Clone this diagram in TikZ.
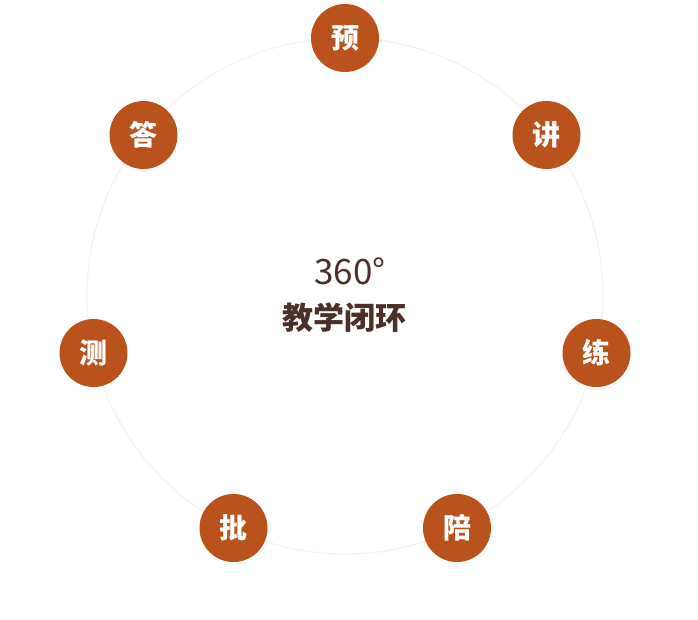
\documentclass[tikz,border=0pt]{standalone}
\usepackage{fontspec}
\setmainfont{Noto Sans CJK SC}
\usepackage{tikz}
\definecolor{rust}{HTML}{B9521D}
\definecolor{ringgray}{HTML}{F6F2EE}
\definecolor{darkbrown}{HTML}{4A3029}
\tikzset{%
    stage/.style={circle,fill=rust,text=white,minimum size=68pt,inner sep=0pt,font=\fontsize{28}{28}\selectfont\bfseries}
}

\begin{document}
\begin{tikzpicture}[x=1pt,y=-1pt]
        \useasboundingbox (0,0) rectangle (698,619);
        \coordinate (o) at (345,296);
        \draw[ringgray, line width=1.2pt] (o) circle (258pt);
        \node[stage] (yu) at (345,38){预};
        \node[stage] (jiang) at (546.5,135){讲};
        \node[stage] (lian) at (596.5,353){练};
        \node[stage] (pei) at (457,528){陪};
        \node[stage] (pi) at (233.5,528){批};
        \node[stage] (ce) at (93.5,353){测};
        \node[stage] (da) at (143.5,135){答};
        \node[text=darkbrown, font=\fontsize{35}{35}\selectfont] (deg) at (350,271){360°};
        \node[text=darkbrown, font=\fontsize{31}{31}\selectfont\bfseries] (title) at (344,318){教学闭环};
    \end{tikzpicture}
\end{document}
